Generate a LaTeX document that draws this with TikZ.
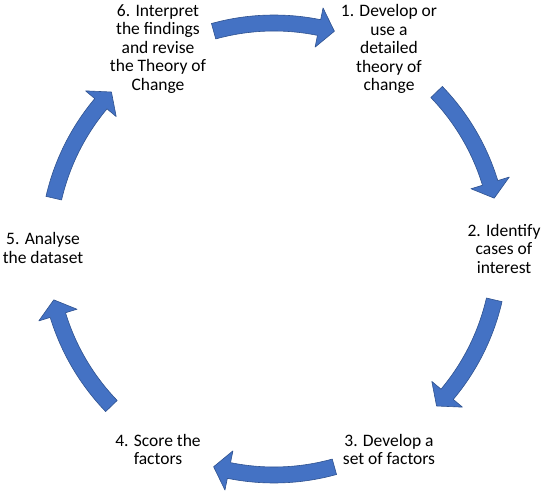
\documentclass[tikz,border=0pt]{standalone}
\usepackage{fontspec}
\setmainfont{Carlito}
\definecolor{cyclefill}{RGB}{68,114,196}
\definecolor{cycleline}{RGB}{47,82,143}
\begin{document}
\begin{tikzpicture}[x=1pt,y=1pt,line cap=round,line join=round,
  stage/.style={align=center,inner sep=0pt,anchor=north,
    font=\fontsize{17.5}{18.4}\selectfont},
  cyclearrow/.style={fill=cyclefill,draw=cycleline,line width=0.6pt}]
  \useasboundingbox (0,0) rectangle (545,501);
  \coordinate (hub) at (274,252);
  % the six stages
  \node[stage] (develop) at (389,496.5) {1. Develop or\\use a\\detailed\\theory of\\change};
  \node[stage] (identify) at (504,277) {2. Identify\\cases of\\interest};
  \node[stage] (factors) at (389,67) {3. Develop a\\set of factors};
  \node[stage] (score) at (158,67) {4. Score the\\factors};
  \node[stage] (analyse) at (43,268.5) {5. Analyse\\the dataset};
  \node[stage] (interpret) at (158,496.5) {6. Interpret\\the findings\\and revise\\the Theory of\\Change};
  % curved block arrows round the hub
  \foreach \a in {90,28.5,-28.5,-90,-151.5,151.5}
    \filldraw[cyclearrow,shift={(hub)}]
      (\a+15.5:234) arc[start angle=\a+15.5,end angle=\a-11.5,radius=234]
      -- (\a-11.5:246) -- (\a-15.5:226) -- (\a-11.5:206) -- (\a-11.5:218)
      arc[start angle=\a-11.5,end angle=\a+15.5,radius=218] -- cycle;
\end{tikzpicture}
\end{document}
